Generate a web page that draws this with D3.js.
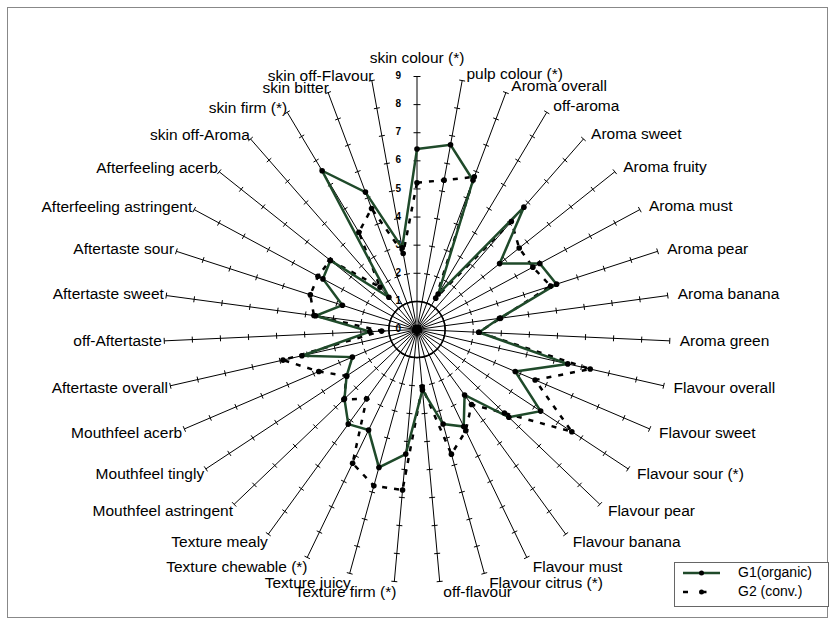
<!DOCTYPE html>
<html><head><meta charset="utf-8">
<script src="https://cdn.jsdelivr.net/npm/d3@7"></script>
<style>body{margin:0;background:#fff} svg{display:block} text{font-family:"Liberation Sans",Arial,sans-serif}</style>
</head><body><svg id="c" width="835" height="625"></svg>
<script>
const categories = ["skin colour (*)","pulp colour (*)","Aroma overall","off-aroma","Aroma sweet","Aroma fruity","Aroma must","Aroma pear","Aroma banana","Aroma green","Flavour overall","Flavour sweet","Flavour sour (*)","Flavour pear","Flavour banana","Flavour must","Flavour citrus (*)","off-flavour","Texture firm (*)","Texture juicy","Texture chewable (*)","Texture mealy","Mouthfeel astringent","Mouthfeel tingly","Mouthfeel acerb","Aftertaste overall","off-Aftertaste","Aftertaste sweet","Aftertaste sour","Afterfeeling astringent","Afterfeeling acerb","skin off-Aroma","skin firm (*)","skin bitter","skin off-Flavour"];
const g1Values = [6.42,6.68,5.67,1.47,5.78,3.76,4.96,5.22,2.96,2.21,5.5,3.8,5.27,4.52,2.88,3.83,3.49,2.16,4.45,5.09,3.97,4.16,3.57,3.0,2.5,4.2,1.68,3.64,2.79,3.8,3.94,1.52,6.58,5.22,2.95];
const g2Values = [5.22,5.4,5.8,1.3,5.1,4.65,4.68,5.0,3.0,2.2,6.32,4.57,6.6,4.3,3.3,4.0,4.6,2.05,5.73,5.77,5.28,3.05,3.6,3.0,3.8,4.89,1.26,3.7,3.99,4.0,3.95,2.0,4.03,4.6,2.75];
const tickValues = [0,1,2,3,4,5,6,7,8,9];
const seriesNames = ["G1(organic)","G2 (conv.)"];

const svg = d3.select("#c");
const cx = 417, cy = 329.5;
const n = categories.length;
const r = d3.scaleLinear().domain([0, 9]).range([0, 253]);
const ang = d3.scaleLinear().domain([0, n]).range([0, 2 * Math.PI]);
const px = (i, v) => cx + r(v) * Math.sin(ang(i));
const py = (i, v) => cy - r(v) * Math.cos(ang(i));

// frame
svg.append("rect").attr("x", 7.5).attr("y", 7.5).attr("width", 820).attr("height", 610)
  .attr("fill", "none").attr("stroke", "#888").attr("stroke-width", 1);

const g = svg.append("g");

// axes
categories.forEach((c, i) => {
  if (i === 0) return;
  g.append("line").attr("x1", cx).attr("y1", cy).attr("x2", px(i, 9)).attr("y2", py(i, 9))
    .attr("stroke", "#000").attr("stroke-width", 1);
  const a = ang(i);
  const ux = Math.cos(a), uy = Math.sin(a);
  tickValues.filter(t => t > 0).forEach(t => {
    const x = px(i, t), y = py(i, t);
    g.append("line").attr("x1", x - 3 * ux).attr("y1", y - 3 * uy).attr("x2", x + 3 * ux).attr("y2", y + 3 * uy)
      .attr("stroke", "#000").attr("stroke-width", 1);
  });
});
g.append("line").attr("x1", cx).attr("y1", cy).attr("x2", px(0, 9)).attr("y2", py(0, 9))
  .attr("stroke", "#808080").attr("stroke-width", 2);
tickValues.filter(t => t > 0).forEach(t => {
  g.append("line").attr("x1", cx - 3.5).attr("x2", cx + 3.5).attr("y1", py(0, t)).attr("y2", py(0, t))
    .attr("stroke", "#000").attr("stroke-width", 1);
});
g.append("circle").attr("cx", cx).attr("cy", cy).attr("r", r(1)).attr("fill", "none")
  .attr("stroke", "#000").attr("stroke-width", 1.5);
g.append("circle").attr("cx", cx).attr("cy", cy).attr("r", 5).attr("fill", "#000");

tickValues.forEach(t => {
  g.append("text").attr("x", cx - 16).attr("y", py(0, t)).attr("text-anchor", "end")
    .attr("dominant-baseline", "middle").attr("font-size", 10).attr("font-weight", "bold").text(t);
});

categories.forEach((c, i) => {
  const a = ang(i), s = Math.sin(a), co = Math.cos(a);
  const ex = px(i, 9), ey = py(i, 9);
  let x, y, anchor;
  const dy = co > 0 ? -co * (s > 0 ? 6 : 4) : -co * 10 + 1;
  if (Math.abs(s) < 0.05) { x = ex; y = ey - 18; anchor = "middle"; }
  else if (s > 0) { x = ex + 7 * s + 3; y = ey + dy; anchor = "start"; }
  else { x = ex + 5 * s + 2.5; y = ey + dy; anchor = "end"; }
  g.append("text").attr("x", x).attr("y", y).attr("text-anchor", anchor)
    .attr("dominant-baseline", "middle").attr("font-size", 15.5).attr("fill", "#000").text(c);
});

const line = d3.lineRadial().angle((d, i) => ang(i)).radius(d => r(d)).curve(d3.curveLinearClosed);
const sg = svg.append("g").attr("transform", `translate(${cx},${cy})`);
sg.append("path").datum(g2Values).attr("d", line).attr("fill", "none").attr("stroke", "#000")
  .attr("stroke-width", 2.5).attr("stroke-dasharray", "5,7");
sg.append("path").datum(g1Values).attr("d", line).attr("fill", "none").attr("stroke", "#1f4a2a")
  .attr("stroke-width", 2.5);
[g2Values, g1Values].forEach(vals => {
  svg.append("g").selectAll("circle").data(vals).join("circle")
    .attr("cx", (d, i) => px(i, d)).attr("cy", (d, i) => py(i, d)).attr("r", 2.8).attr("fill", "#000");
});

const lg = svg.append("g");
lg.append("rect").attr("x", 674.5).attr("y", 562.5).attr("width", 154).attr("height", 44)
  .attr("fill", "#fff").attr("stroke", "#666").attr("stroke-width", 1);
lg.append("line").attr("x1", 683).attr("x2", 720).attr("y1", 573).attr("y2", 573)
  .attr("stroke", "#1f4a2a").attr("stroke-width", 2.5);
lg.append("circle").attr("cx", 701.5).attr("cy", 573).attr("r", 2.5).attr("fill", "#000");
lg.append("line").attr("x1", 683).attr("x2", 720).attr("y1", 592).attr("y2", 592)
  .attr("stroke", "#000").attr("stroke-width", 2.5).attr("stroke-dasharray", "5,13.5");
lg.append("circle").attr("cx", 701.5).attr("cy", 592).attr("r", 2.5).attr("fill", "#000");
seriesNames.forEach((nm, k) => {
  lg.append("text").attr("x", 738).attr("y", 573 + 19 * k).attr("dominant-baseline", "middle")
    .attr("font-size", 14).text(nm);
});
</script></body></html>
